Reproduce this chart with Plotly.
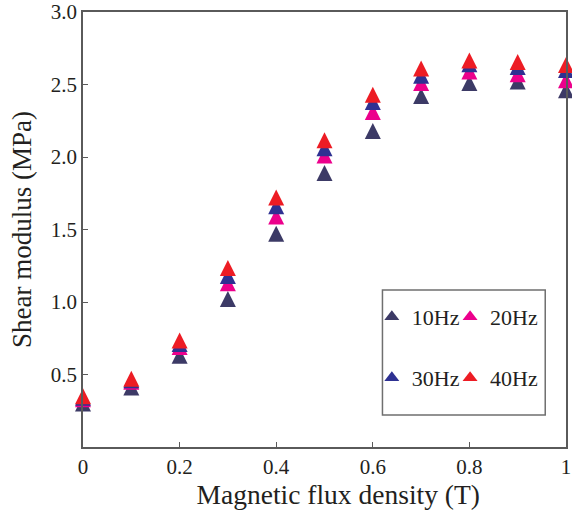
import plotly.graph_objects as go

# ---- data ----
flux_density = [0.0, 0.1, 0.2, 0.3, 0.4, 0.5, 0.6, 0.7, 0.8, 0.9, 1.0]
g_10hz = [0.30, 0.41, 0.63, 1.02, 1.47, 1.89, 2.18, 2.42, 2.51, 2.52, 2.46]
g_20hz = [0.33, 0.45, 0.69, 1.13, 1.59, 2.01, 2.31, 2.51, 2.59, 2.57, 2.53]
g_30hz = [0.34, 0.46, 0.71, 1.18, 1.66, 2.06, 2.38, 2.56, 2.64, 2.62, 2.60]
g_40hz = [0.35, 0.47, 0.735, 1.235, 1.72, 2.115, 2.43, 2.61, 2.665, 2.655, 2.635]

series_names = ["10Hz", "20Hz", "30Hz", "40Hz"]
series_values = [g_10hz, g_20hz, g_30hz, g_40hz]
series_colors = ["#3c3a66", "#ec008c", "#2e3192", "#ed1c24"]

x_tickvals = [0, 0.2, 0.4, 0.6, 0.8, 1.0]
x_ticktext = ["0", "0.2", "0.4", "0.6", "0.8", "1"]
y_tickvals = [0.5, 1.0, 1.5, 2.0, 2.5, 3.0]
y_ticktext = ["0.5", "1.0", "1.5", "2.0", "2.5", "3.0"]

FONT = "Liberation Serif, Times New Roman, serif"
MSIZE = 16

fig = go.Figure()
for name, vals, col in zip(series_names, series_values, series_colors):
    fig.add_trace(go.Scatter(
        x=flux_density, y=vals, name=name, mode="markers",
        showlegend=False, cliponaxis=False,
        marker=dict(symbol="arrow-down", angle=180, standoff=MSIZE / 2,
                    size=MSIZE, color=col, line=dict(width=0)),
    ))

# legend entries (one small legend per entry, laid out 2 x 2)
legend_ids = ["legend", "legend2", "legend3", "legend4"]
for name, col, lg in zip(series_names, series_colors, legend_ids):
    fig.add_trace(go.Scatter(
        x=[None], y=[None], name=name, mode="markers", legend=lg,
        showlegend=True,
        marker=dict(symbol="triangle-up", size=13, color=col, line=dict(width=0)),
    ))

axis_common = dict(
    showgrid=False, zeroline=False, showline=True, mirror=True,
    linecolor="#5a5a5a", linewidth=1.5, automargin=False,
    ticks="inside", ticklen=5, tickwidth=1.2, tickcolor="#5a5a5a",
    tickfont=dict(family=FONT, size=21, color="#231f20"),
)

leg_common = dict(
    bgcolor="rgba(0,0,0,0)", borderwidth=0, itemsizing="trace",
    font=dict(family=FONT, size=22, color="#231f20"),
    xanchor="left", yanchor="middle",
)

fig.update_layout(
    width=572, height=513,
    margin=dict(l=83, r=6, t=12, b=66, autoexpand=False),
    showlegend=True,
    paper_bgcolor="white", plot_bgcolor="white",
    font=dict(family=FONT, color="#231f20"),
    xaxis=dict(range=[0, 1], tickvals=x_tickvals, ticktext=x_ticktext,
               title=dict(text="&nbsp;&nbsp;&nbsp;&nbsp;Magnetic flux density (T)", standoff=5,
                          font=dict(family=FONT, size=27.5, color="#231f20")),
               **axis_common),
    yaxis=dict(range=[0, 3], tickvals=y_tickvals, ticktext=y_ticktext,
               title=dict(text="Shear modulus (MPa)", standoff=11,
                          font=dict(family=FONT, size=27, color="#231f20")),
               **axis_common),
    legend=dict(x=0.598, y=0.299, **leg_common),
    legend2=dict(x=0.760, y=0.299, **leg_common),
    legend3=dict(x=0.598, y=0.159, **leg_common),
    legend4=dict(x=0.760, y=0.159, **leg_common),
    shapes=[dict(type="rect", xref="paper", yref="paper",
                 x0=0.620, x1=0.957, y0=0.0736, y1=0.361,
                 line=dict(color="#6f6f6f", width=1.5), fillcolor="rgba(0,0,0,0)")],
)

fig.write_html("out.html",
               config={"displayModeBar": False},
               post_script="document.body.style.margin='0';document.body.style.overflow='hidden';")
